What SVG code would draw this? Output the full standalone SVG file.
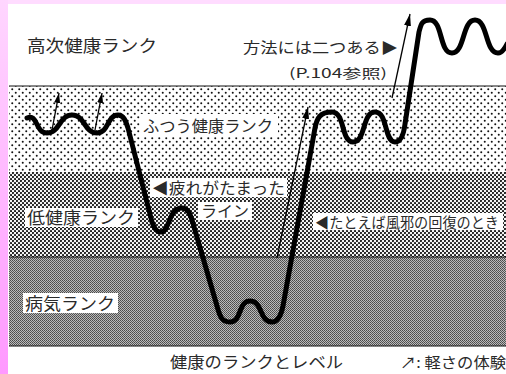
<svg xmlns="http://www.w3.org/2000/svg" width="506" height="374" viewBox="0 0 506 374">
<defs>
<linearGradient id="pinkL" x1="0" y1="0" x2="0" y2="1">
<stop offset="0" stop-color="#ffd6ff"/>
<stop offset="1" stop-color="#ff99ff"/>
</linearGradient>
<pattern id="pDots" width="7" height="7" patternUnits="userSpaceOnUse">
<rect width="7" height="7" fill="#fff"/>
<circle cx="1.75" cy="1.75" r="1" fill="#111"/>
<circle cx="5.25" cy="5.25" r="1" fill="#111"/>
</pattern>
<pattern id="pMed" width="4" height="4" patternUnits="userSpaceOnUse">
<rect width="4" height="4" fill="#f4f4f4"/>
<circle cx="1" cy="1" r="1.05" fill="#111"/>
<circle cx="3" cy="3" r="1.05" fill="#111"/>
</pattern>
<pattern id="pDark" width="2" height="2" patternUnits="userSpaceOnUse">
<rect width="2" height="2" fill="#bababa"/>
<rect width="1" height="1" fill="#4a4a4a"/>
<rect x="1" y="1" width="1" height="1" fill="#5a5a5a"/>
</pattern>
<marker id="ah" markerUnits="userSpaceOnUse" markerWidth="12" markerHeight="7" refX="12" refY="3.5" orient="auto">
<path d="M0,0 L12,3.5 L0,7 Z" fill="#000"/>
</marker>
<marker id="ahS" markerUnits="userSpaceOnUse" markerWidth="10" markerHeight="6" refX="10" refY="3" orient="auto">
<path d="M0,0 L10,3 L0,6 Z" fill="#000"/>
</marker>
</defs>
<style>
.t{font-family:"Noto Sans CJK JP","Noto Sans",sans-serif;fill:#2a2a2a}
.box{fill:#fff}
.band{stroke:none}
.edge{stroke:#111;stroke-width:1}
.curve{fill:none;stroke:#000;stroke-width:5;stroke-linecap:round;stroke-linejoin:round}
.arr{fill:none;stroke:#000;stroke-width:1.3}
</style>
<rect width="506" height="374" fill="#fff"/>
<rect x="0" y="0" width="506" height="4" fill="#ffdcff"/>
<rect x="0" y="0" width="8" height="374" fill="url(#pinkL)"/>

<g id="bands">
<rect class="band" x="9" y="86" width="497" height="86" fill="url(#pDots)"/>
<rect class="band" x="9" y="172" width="497" height="85" fill="url(#pMed)"/>
<rect class="band" x="9" y="257" width="497" height="89" fill="url(#pDark)"/>
<line class="edge" x1="9" y1="86" x2="506" y2="86"/>
<line class="edge" x1="9" y1="257" x2="506" y2="257"/>
<line class="edge" x1="9" y1="346" x2="506" y2="346"/>
</g>

<g id="connectors">
<path id="health-curve" class="curve" d="M27,118 C38,113 35,133 47,133 C60,133 59,115 72,115 C85,115 84,133 97,133 C109,133 107,115 118,115 C124,115 126,122 128,128 L152,222 C155,230 157,232 161,232 C170,232 168,208 182,208 C188,208 190,214 192,220 L217,306 C220,317 222,322 230,322 C242,322 238,301 250,301 C263,301 259,322 272,322 C278,322 281,316 283,306 L315,128 C317,118 320,112 332,112 C345,112 341,142 353,142 C366,142 362,112 375,112 C388,112 384,142 395,142 C402,142 404,132 405,124 L419,32 C421,24 422,20 430,20 C443,20 439,53 452,53 C465,53 462,20 475,20 C488,20 485,53 498,53 C502,53 505,48 507,44"/>
<line class="arr" x1="52" y1="130" x2="59" y2="93" marker-end="url(#ahS)"/>
<line class="arr" x1="95" y1="130" x2="102" y2="93" marker-end="url(#ahS)"/>
<line class="arr" x1="277" y1="258" x2="308" y2="107" marker-end="url(#ah)"/>
<line class="arr" x1="392" y1="98" x2="410" y2="14" marker-end="url(#ah)"/>
</g>

<g id="label-high">
<text class="t" x="27" y="52" font-size="17" textLength="130" lengthAdjust="spacingAndGlyphs">高次健康ランク</text>
</g>
<g id="label-methods">
<text class="t" x="243" y="53" font-size="15" textLength="155" lengthAdjust="spacingAndGlyphs">方法には二つある▶</text>
<text class="t" x="289" y="78" font-size="13" textLength="98" lengthAdjust="spacingAndGlyphs">(P.104参照)</text>
</g>
<g id="label-normal">
<rect class="box" x="140" y="114" width="138" height="22"/>
<text class="t" x="143" y="132" font-size="16" textLength="130" lengthAdjust="spacingAndGlyphs">ふつう健康ランク</text>
</g>
<g id="label-fatigue">
<rect class="box" x="150" y="178" width="137" height="19"/>
<text class="t" x="152" y="194" font-size="15.5" textLength="133" lengthAdjust="spacingAndGlyphs">◀疲れがたまった</text>
<rect class="box" x="198" y="202" width="54" height="18"/>
<text class="t" x="201" y="217" font-size="15.5" textLength="48" lengthAdjust="spacingAndGlyphs">ライン</text>
</g>
<g id="label-low">
<rect class="box" x="25" y="208" width="113" height="19"/>
<text class="t" x="27" y="224" font-size="17" textLength="108" lengthAdjust="spacingAndGlyphs">低健康ランク</text>
</g>
<g id="label-cold">
<rect class="box" x="313" y="213" width="190" height="17"/>
<text class="t" x="315" y="227.5" font-size="14.5" textLength="184" lengthAdjust="spacingAndGlyphs">◀たとえば風邪の回復のとき</text>
</g>
<g id="label-sick">
<rect class="box" x="23" y="293" width="95" height="20"/>
<text class="t" x="25" y="310" font-size="17" textLength="90" lengthAdjust="spacingAndGlyphs">病気ランク</text>
</g>
<g id="caption">
<text class="t" x="170" y="368" font-size="16" textLength="173" lengthAdjust="spacingAndGlyphs">健康のランクとレベル</text>
<text class="t" x="400" y="368" font-size="15" textLength="106" lengthAdjust="spacingAndGlyphs">↗: 軽さの体験</text>
</g>
</svg>
